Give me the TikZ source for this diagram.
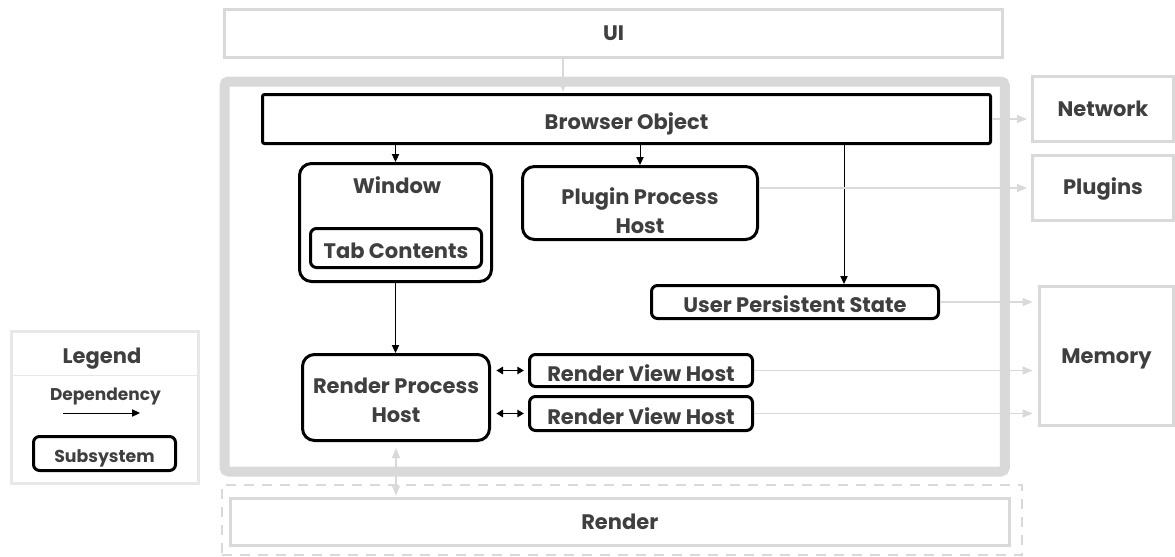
\documentclass[tikz,border=0pt]{standalone}
\usepackage{fontspec}
\setmainfont{Poppins}
\usetikzlibrary{arrows.meta,fit}
\definecolor{ink}{HTML}{3F3F3F}
\definecolor{shell}{HTML}{D9D9D9}
\definecolor{legendgray}{HTML}{E8E8E8}
\tikzset{
  lbl/.style={font=\fontsize{15.75}{21.75}\selectfont\bfseries, text=ink, inner sep=0pt},
  lines/.style={lbl, align=center},
  plain/.style={lbl, text depth=0pt},
  % text placed at the middle of a box
  mid/.style={label={[plain]center:#1}},
  midlow/.style={label={[plain, yshift=-1.9pt]center:#1}},
  sub/.style={draw=black, line width=2.25pt, rounded corners=4.5pt, inner sep=0pt},
  bigsub/.style={sub, rounded corners=9pt},
  ext/.style={draw=shell, line width=2.25pt, inner sep=0pt},
  dep/.style={draw=black, line width=0.75pt, -{Triangle[length=6pt,width=5.5pt]}},
  extdep/.style={draw=shell, line width=0.9pt, -{Triangle[length=7.5pt,width=6pt]}},
  pairdep/.style={draw=black, line width=1.2pt,
    {Triangle[length=5pt,width=5.5pt]}-{Triangle[length=5pt,width=5.5pt]}},
  extpair/.style={draw=shell, line width=0.9pt,
    {Triangle[length=7.5pt,width=6pt]}-{Triangle[length=7.5pt,width=6pt]}},
}
\begin{document}
\begin{tikzpicture}[x=0.75pt,y=-0.75pt]
\useasboundingbox (0,0) rectangle (1175,557);

% browser process frame and the render zone below it
\node[draw=shell, line width=7.5pt, rounded corners=3pt, inner sep=0pt,
      fit={(224.5,81.5)(1004.75,471.5)}] (browserproc) {};
\node[draw=shell, line width=1.5pt, dash pattern=on 7.5pt off 6pt, inner sep=0pt,
      fit={(222,485)(1022,555)}] (renderzone) {};

% external systems
\node[ext, fit={(224.5,9.5)(1002.5,57.5)}, mid=UI] (ui) {};
\node[ext, fit={(230,498.5)(1009.5,545.5)}, mid=Render] (render) {};
\node[ext, fit={(1032.5,76.5)(1173.5,141.5)}, mid=Network] (network) {};
\node[ext, fit={(1032.5,155.5)(1173.5,220.5)}, label={[plain, yshift=1.2pt]center:Plugins}] (plugins) {};
\node[ext, fit={(1039.5,286.5)(1173.5,425.5)}, mid=Memory] (memory) {};

% browser subsystems
\node[sub, rounded corners=1.5pt, fit={(262.5,94.5)(990.5,143.5)}, midlow={Browser Object}] (browser) {};
\node[bigsub, fit={(299.5,163.5)(491.5,281.5)}] (win) {};
\node[lbl, anchor=base] (wintitle) at (397,193) {Window};
\node[sub, fit={(310.5,228.5)(481.5,267.5)}, midlow={Tab Contents}] (tab) {};
\node[bigsub, fit={(522.5,166.5)(757.5,239.5)},
      label={[lines, yshift=-5.6pt]center:Plugin Process\\Host}] (pph) {};
\node[sub, fit={(651.5,285.5)(938.5,318.5)}, midlow={User Persistent State}] (ups) {};
\node[bigsub, fit={(302.5,354.5)(489.5,440.5)},
      label={[lines, yshift=-2.25pt]center:Render Process\\Host}] (rph) {};
\node[sub, fit={(529.5,354.5)(752.5,386.5)}, midlow={Render View Host}] (rvh1) {};
\node[sub, fit={(529.5,396.5)(752.5,430.5)}, midlow={Render View Host}] (rvh2) {};

% dependencies inside the browser process
\draw[dep] (browser.south -| win.north) -- (win.north);
\draw[dep] (browser.south -| pph.north) -- (pph.north);
\coordinate (upstap) at (844,0);
\draw[dep] (browser.south -| upstap) -- (ups.north -| upstap);
\draw[dep] (win.south) -- (rph.north -| win.south);
\draw[pairdep, shorten <=4pt, shorten >=3pt] (rph.east |- rvh1.west) -- (rvh1.west);
\draw[pairdep, shorten <=4pt, shorten >=3pt] (rph.east |- rvh2.west) -- (rvh2.west);

% dependencies on external systems
\coordinate (uitap) at (563,0);
\draw[extdep, shorten >=1pt] (ui.south -| uitap) -- (browser.north -| uitap);
\draw[extdep, shorten >=3pt] (browser.east) -- (network.west |- browser.east);
\draw[extdep, shorten >=3pt] (pph.east |- plugins.west) -- (plugins.west);
\draw[extdep, shorten >=4pt] (ups.east) -- (ups.east -| memory.west);
\draw[extdep, shorten >=4pt] (rvh1.east) -- (rvh1.east -| memory.west);
\draw[extdep, shorten >=4pt] (rvh2.east) -- (rvh2.east -| memory.west);
\draw[extpair, shorten <=1pt, shorten >=4.5pt] (render.north -| rph.south) -- (rph.south);

% legend
\node[draw=legendgray, line width=2.25pt, inner sep=0pt,
      fit={(11.5,331.5)(198.5,483.5)}] (legend) {};
\coordinate (legsep) at (0,375);
\draw[legendgray, line width=0.75pt] (legend.west |- legsep) -- (legend.east |- legsep);
\node[lbl, anchor=base] (legendtitle) at (102,363) {Legend};
\node[lbl, anchor=base, font=\fontsize{12.75}{15}\selectfont\bfseries] (legenddep) at (105.5,400) {Dependency};
\coordinate (legfrom) at (63,413);
\coordinate (legto) at (140,413);
\draw[dep] (legfrom) -- (legto);
\node[sub, fit={(33.5,436.5)(175.5,470.5)},
      label={[plain, font=\fontsize{13}{15}\selectfont\bfseries, yshift=-1.9pt]center:Subsystem}] (legsub) {};
\end{tikzpicture}
\end{document}
